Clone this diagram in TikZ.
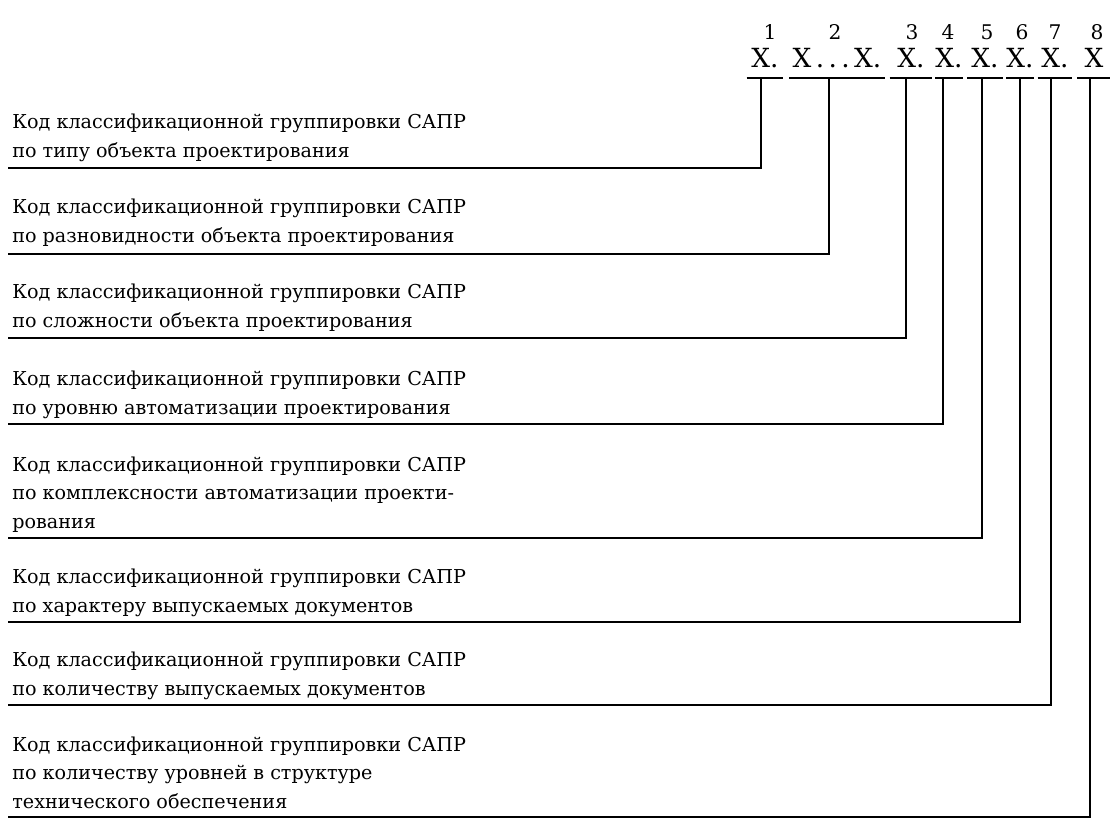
\documentclass[tikz,border=0pt]{standalone}
\usepackage{fontspec}
\setmainfont{DejaVu Serif}
\usetikzlibrary{positioning}

\begin{document}
\begin{tikzpicture}[x=0.02cm, y=-0.02cm,
    txt/.style={anchor=base west, align=left, inner sep=0pt, font=\fontsize{10.9}{16.2}\selectfont},
    num/.style={anchor=base, inner sep=0pt, font=\fontsize{11.5}{13}\selectfont},
    code/.style={anchor=base, inner xsep=0pt, inner ysep=0pt, text depth=0.22cm, font=\fontsize{15}{17}\selectfont},
    lead/.style={line width=1pt}]
  \useasboundingbox (0,0) rectangle (1110,819);

  % position numbers
  \node[num] (n1) at (770,39) {1};
  \node[num] (n2) at (835,39) {2};
  \node[num] (n3) at (912,39) {3};
  \node[num] (n4) at (948,39) {4};
  \node[num] (n5) at (987,39) {5};
  \node[num] (n6) at (1022,39) {6};
  \node[num] (n7) at (1055,39) {7};
  \node[num] (n8) at (1097,39) {8};

  % code groups
  \node[code, minimum width=0.72cm] (g1) at (765,67) {X.};
  \node[code, minimum width=1.90cm] (g2) at (837,67) {X\,.\,.\,.\,X.};
  \node[code, minimum width=0.84cm] (g3) at (911,67) {X.};
  \node[code, minimum width=0.50cm] (g4) at (949,67) {X.};
  \node[code, minimum width=0.70cm] (g5) at (985,67) {X.};
  \node[code, minimum width=0.52cm] (g6) at (1020,67) {X.};
  \node[code, minimum width=0.68cm] (g7) at (1055,67) {X.};
  \node[code, minimum width=0.66cm] (g8) at (1094,67) {X};

  \draw[lead] (g1.south west) -- (g1.south east);
  \draw[lead] (g2.south west) -- (g2.south east);
  \draw[lead] (g3.south west) -- (g3.south east);
  \draw[lead] (g4.south west) -- (g4.south east);
  \draw[lead] (g5.south west) -- (g5.south east);
  \draw[lead] (g6.south west) -- (g6.south east);
  \draw[lead] (g7.south west) -- (g7.south east);
  \draw[lead] (g8.south west) -- (g8.south east);

  % descriptions (placed by the baseline of their last line)
  \node[txt] (t1) at (12,157) {Код классификационной группировки САПР\\по типу объекта проектирования};
  \node[txt] (t2) at (12,242) {Код классификационной группировки САПР\\по разновидности объекта проектирования};
  \node[txt] (t3) at (12,327) {Код классификационной группировки САПР\\по сложности объекта проектирования};
  \node[txt] (t4) at (12,414) {Код классификационной группировки САПР\\по уровню автоматизации проектирования};
  \node[txt] (t5) at (12,528) {Код классификационной группировки САПР\\по комплексности автоматизации проекти-\\рования};
  \node[txt] (t6) at (12,612) {Код классификационной группировки САПР\\по характеру выпускаемых документов};
  \node[txt] (t7) at (12,695) {Код классификационной группировки САПР\\по количеству выпускаемых документов};
  \node[txt] (t8) at (12,808) {Код классификационной группировки САПР\\по количеству уровней в структуре\\технического обеспечения};

  % leader lines
  \coordinate (s1) at (8,168);
  \coordinate (s2) at (8,254);
  \coordinate (s3) at (8,338);
  \coordinate (s4) at (8,424);
  \coordinate (s5) at (8,538);
  \coordinate (s6) at (8,622);
  \coordinate (s7) at (8,705);
  \coordinate (s8) at (8,817);

  \draw[lead] (s1) -| (g1.south -| 761,0);
  \draw[lead] (s2) -| (g2.south -| 829,0);
  \draw[lead] (s3) -| (g3.south -| 906,0);
  \draw[lead] (s4) -| (g4.south -| 943,0);
  \draw[lead] (s5) -| (g5.south -| 982,0);
  \draw[lead] (s6) -| (g6.south -| 1020,0);
  \draw[lead] (s7) -| (g7.south -| 1051,0);
  \draw[lead] (s8) -| (g8.south -| 1090,0);
\end{tikzpicture}
\end{document}
